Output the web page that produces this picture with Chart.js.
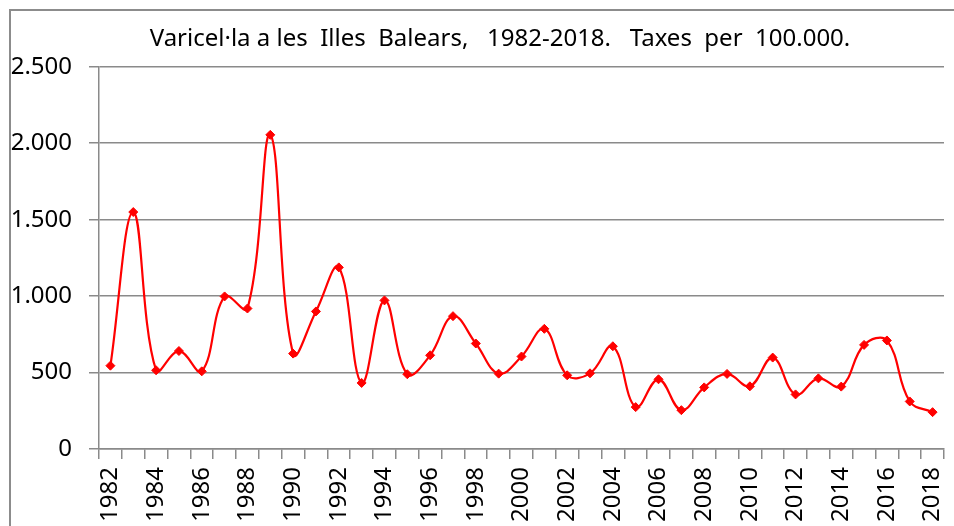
<!DOCTYPE html>
<html>
<head>
<meta charset="UTF-8" />
<title>Varicel·la</title>
<script src="https://cdn.jsdelivr.net/npm/chart.js@4.4.1/dist/chart.umd.min.js"></script>
<style>
  body { margin: 0; background: #fff; overflow: hidden; }
  #wrap { position: relative; width: 954px; height: 526px; }
  #frame { position: absolute; left: 9px; top: 9px; width: 1000px; height: 600px;
           border: 2px solid #8c8c8c; pointer-events: none; }
</style>
</head>
<body>
<div id="wrap">
  <canvas id="chart" width="954" height="526"></canvas>
  <div id="frame"></div>
</div>
<script>
  var years = [];
  for (var y = 1982; y <= 2018; y++) years.push(String(y));

  var rates = [545, 1550, 515, 641, 508, 998, 919, 2055, 624, 900,
               1188, 432, 972, 489, 613, 869, 690, 493, 605, 786,
               482, 495, 672, 274, 456, 254, 403, 491, 410, 598,
               357, 462, 408, 681, 710, 311, 241];

  var yTicks = [0, 500, 1000, 1500, 2000, 2500];

  var titleText = 'Varicel·la a les  Illes  Balears,   1982-2018.   Taxes  per  100.000.';

  function fmt(v) {
    return String(v).replace(/\B(?=(\d{3})+(?!\d))/g, '.');
  }

  // title in the original sits a little right of the canvas centre
  var shiftTitle = {
    id: 'shiftTitle',
    afterLayout: function (c) {
      if (c.titleBlock) c.titleBlock.left += 56;
    }
  };

  var gray = '#8a8a8a';
  var ctx = document.getElementById('chart');
  var chart = new Chart(ctx, {
    type: 'line',
    data: {
      labels: years,
      datasets: [{
        data: rates,
        borderColor: '#ff0000',
        backgroundColor: '#ff0000',
        borderWidth: 2.2,
        tension: 0.4,
        pointStyle: 'rectRot',
        pointRadius: 4.5,
        pointBorderWidth: 1,
        fill: false
      }]
    },
    plugins: [shiftTitle],
    options: {
      responsive: false,
      animation: false,
      layout: { padding: { left: 0, right: 10, top: 0, bottom: 0 } },
      plugins: {
        legend: { display: false },
        tooltip: { enabled: false },
        title: {
          display: true,
          text: titleText,
          color: '#000',
          font: { family: 'Noto Sans', size: 24, weight: 'normal' },
          padding: { top: 25, bottom: 13 }
        }
      },
      scales: {
        x: {
          type: 'category',
          offset: true,
          afterFit: function (s) { s.height = 77; s.paddingLeft = 0; s.paddingRight = 0; },
          grid: {
            offset: true,
            drawOnChartArea: false,
            drawTicks: true,
            tickLength: 10,
            color: gray,
            lineWidth: 1.5
          },
          border: { color: gray, width: 1.5 },
          ticks: {
            autoSkip: false,
            maxRotation: 90,
            minRotation: 90,
            padding: 8,
            color: '#000',
            font: { family: 'Noto Sans', size: 24 },
            callback: function (v, i) { return i % 2 === 0 ? years[i] : ''; }
          }
        },
        y: {
          min: 0,
          max: 2500,
          afterFit: function (s) { s.width = 99; },
          afterBuildTicks: function (s) {
            s.ticks = yTicks.map(function (v) { return { value: v }; });
          },
          grid: {
            color: gray,
            lineWidth: 1.5,
            drawTicks: true,
            tickLength: 10
          },
          border: { color: gray, width: 1.5 },
          ticks: {
            padding: 17,
            color: '#000',
            font: { family: 'Noto Sans', size: 24 },
            callback: function (v) { return fmt(v); }
          }
        }
      }
    }
  });
</script>
</body>
</html>
